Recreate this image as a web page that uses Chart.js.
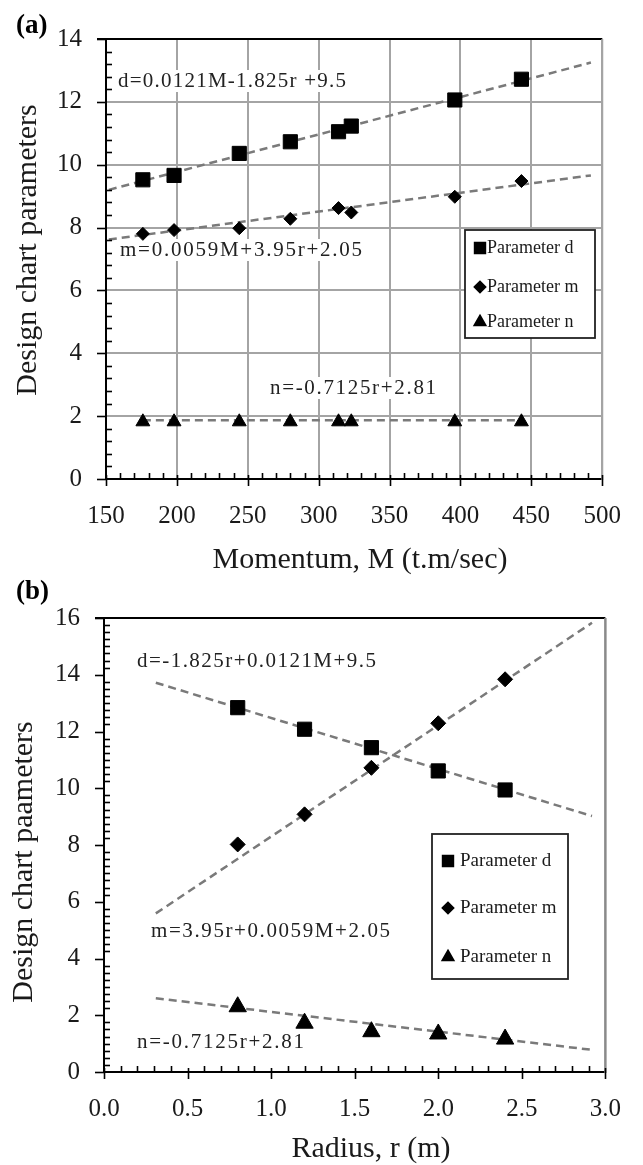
<!DOCTYPE html>
<html><head><meta charset="utf-8">
<script src="https://cdn.jsdelivr.net/npm/chart.js@4/dist/chart.umd.min.js"></script>
<style>
html,body{margin:0;padding:0;background:#fff;}
body{width:643px;height:1165px;position:relative;overflow:hidden;}
.w{position:absolute;left:0;width:643px;}
</style></head><body>
<div class="w" style="top:0;height:580px"><canvas id="ca" width="643" height="580"></canvas></div>
<div class="w" style="top:575px;height:590px"><canvas id="cb" width="643" height="590"></canvas></div>
<script>
// ---------- data: panel (a), parameters vs momentum ----------
const momentum = [176, 198, 244, 280, 314, 323, 396, 443];
const dVsM = [9.52, 9.66, 10.36, 10.73, 11.05, 11.23, 12.06, 12.72];
const mVsM = [7.80, 7.92, 7.98, 8.28, 8.62, 8.48, 8.98, 9.48];
const nVsM = [1.82, 1.82, 1.82, 1.82, 1.82, 1.82, 1.82, 1.82];
const trendMomentumX = [152, 492];
const trendDvsM = [9.20, 13.25];
const trendMvsM = [7.62, 9.66];
const trendNMomentumX = [176, 443];
const trendNvsM = [1.87, 1.87];
const momentumTicks = [150, 200, 250, 300, 350, 400, 450, 500];
const paramTicksA = [0, 2, 4, 6, 8, 10, 12, 14];

// ---------- data: panel (b), parameters vs radius ----------
const radius = [0.8, 1.2, 1.6, 2.0, 2.4];
const dVsR = [12.84, 12.08, 11.43, 10.61, 9.94];
const mVsR = [8.02, 9.08, 10.72, 12.29, 13.84];
const nVsR = [2.30, 1.72, 1.42, 1.34, 1.16];
const trendRadiusX = [0.31, 2.92];
const trendDvsR = [13.72, 9.02];
const trendMvsR = [5.59, 15.83];
const trendNvsR = [2.60, 0.78];
const radiusTicks = [0, 0.5, 1.0, 1.5, 2.0, 2.5, 3.0];
const radiusTickLabels = ['0.0', '0.5', '1.0', '1.5', '2.0', '2.5', '3.0'];
const paramTicksB = [0, 2, 4, 6, 8, 10, 12, 14, 16];

const seriesNames = ['Parameter d', 'Parameter m', 'Parameter n'];

const SERIF = '"Liberation Serif", "Times New Roman", serif';
const TXT = '#1a1a1a';

function pts(xs, ys) { return xs.map((x, i) => ({x: x, y: ys[i]})); }

function markerSet(xs, ds, ms, ns, sz) {
  return [
    {label: seriesNames[0], data: pts(xs, ds), pointStyle: 'rect', pointRadius: sz.d, backgroundColor: '#000', borderColor: '#000', borderWidth: 1, order: 1},
    {label: seriesNames[1], data: pts(xs, ms), pointStyle: 'rectRot', pointRadius: sz.m, backgroundColor: '#000', borderColor: '#000', borderWidth: 1, order: 1},
    {label: seriesNames[2], data: pts(xs, ns), pointStyle: 'triangle', pointRadius: sz.n, backgroundColor: '#000', borderColor: '#000', borderWidth: 1, order: 1}
  ];
}
function trend(label, xs, ys) {
  return {label: label, data: pts(xs, ys), showLine: true, pointRadius: 0, borderColor: '#7a7a7a', borderWidth: 2.5, borderDash: [8, 5], fill: false, order: 2};
}

function line(ctx, x1, y1, x2, y2) { ctx.beginPath(); ctx.moveTo(x1, y1); ctx.lineTo(x2, y2); ctx.stroke(); }

function spacedText(ctx, text, x, y, width) {
  const w0 = ctx.measureText(text).width;
  if ('letterSpacing' in ctx) {
    ctx.letterSpacing = ((width - w0) / Math.max(1, text.length - 1)).toFixed(2) + 'px';
    ctx.fillText(text, x, y);
    ctx.letterSpacing = '0px';
  } else {
    ctx.save(); ctx.translate(x, y); ctx.scale(width / w0, 1); ctx.fillText(text, 0, 0); ctx.restore();
  }
}

function drawMarker(ctx, style, r, x, y) {
  ctx.fillStyle = '#000'; ctx.strokeStyle = '#000';
  if (window.Chart && Chart.helpers && Chart.helpers.drawPoint) {
    Chart.helpers.drawPoint(ctx, {pointStyle: style, radius: r, borderWidth: 1, rotation: 0}, x, y);
  }
}

function makeDeco(cfg) {
  return {
    id: 'deco' + cfg.tag,
    beforeDatasetsDraw(chart) {
      const ctx = chart.ctx;
      ctx.save();
      ctx.font = cfg.annFont;
      ctx.textBaseline = 'middle';
      cfg.annotations.forEach(an => {
        ctx.fillStyle = '#fff';
        ctx.fillRect(an.x - 4, an.y - 11, an.w + 8, 22);
        ctx.fillStyle = '#222';
        spacedText(ctx, an.text, an.x, an.y, an.w);
      });
      ctx.restore();
    },
    afterDatasetsDraw(chart) {
      const ctx = chart.ctx, L = cfg.legend;
      ctx.save();
      ctx.fillStyle = '#fff';
      ctx.fillRect(L.x, L.y, L.w, L.h);
      ctx.strokeStyle = '#222'; ctx.lineWidth = 1.8;
      ctx.strokeRect(L.x, L.y, L.w, L.h);
      const styles = ['rect', 'rectRot', 'triangle'];
      ctx.font = L.font; ctx.textBaseline = 'middle'; ctx.textAlign = 'left';
      seriesNames.forEach((name, i) => {
        drawMarker(ctx, styles[i], L.r[i], L.mx, L.ys[i]);
        ctx.fillStyle = TXT;
        ctx.fillText(name, L.tx, L.ys[i]);
      });
      ctx.restore();
    },
    afterDraw(chart) {
      const ctx = chart.ctx, a = chart.chartArea, xs = chart.scales.x, ys = chart.scales.y;
      ctx.save();
      // top border
      ctx.strokeStyle = '#000'; ctx.lineWidth = 2;
      line(ctx, a.left - 9, a.top, a.right, a.top);
      // right border
      ctx.strokeStyle = cfg.rightColor; ctx.lineWidth = cfg.rightWidth;
      line(ctx, a.right, a.top, a.right, a.bottom + 1);
      // tick marks
      ctx.strokeStyle = '#000'; ctx.lineWidth = 1.6;
      let n = Math.round((ys.max - ys.min) / cfg.yMinor), k = Math.round(cfg.yMajor / cfg.yMinor);
      for (let i = 0; i <= n; i++) {
        const py = Math.round(ys.getPixelForValue(ys.min + i * cfg.yMinor)) + 0.5;
        if (i % k === 0) line(ctx, a.left - 9, py, a.left + 1, py);
        else line(ctx, a.left, py, a.left + 6, py);
      }
      n = Math.round((xs.max - xs.min) / cfg.xMinor); k = Math.round(cfg.xMajor / cfg.xMinor);
      for (let i = 0; i <= n; i++) {
        const px = Math.round(xs.getPixelForValue(xs.min + i * cfg.xMinor)) + 0.5;
        if (i % k === 0) line(ctx, px, a.bottom - 4, px, a.bottom + 7);
        else line(ctx, px, a.bottom - 6, px, a.bottom);
      }
      // panel label
      ctx.fillStyle = '#000';
      ctx.font = 'bold 27px ' + SERIF;
      ctx.textBaseline = 'middle'; ctx.textAlign = 'left';
      ctx.fillText(cfg.panel, 16, cfg.panelY);
      // axis titles
      ctx.fillStyle = TXT;
      ctx.font = cfg.titleFont;
      ctx.textAlign = 'center'; ctx.textBaseline = 'alphabetic';
      ctx.fillText(cfg.xTitle, cfg.xTitleX, cfg.xTitleY);
      ctx.translate(cfg.yTitleX, cfg.yTitleY);
      ctx.rotate(-Math.PI / 2);
      ctx.fillText(cfg.yTitle, 0, 0);
      ctx.restore();
    }
  };
}

function scalesFor(o) {
  return {
    x: {
      type: 'linear', min: o.xMin, max: o.xMax,
      afterBuildTicks: s => { s.ticks = o.xTicks.map(v => ({value: v})); },
      afterFit: s => { s.height = o.xH; },
      ticks: {padding: o.xPad, color: TXT, font: {family: SERIF, size: 25}, maxRotation: 0, autoSkip: false,
        callback: (v, i) => o.xLabels ? o.xLabels[i] : String(v)},
      grid: {display: o.grid, color: '#a4a4a4', lineWidth: 2, drawTicks: false},
      border: {display: true, color: '#000', width: 2}
    },
    y: {
      type: 'linear', min: o.yMin, max: o.yMax,
      afterBuildTicks: s => { s.ticks = o.yTicks.map(v => ({value: v})); },
      afterFit: s => { s.width = o.yW; },
      ticks: {padding: 24, color: TXT, font: {family: SERIF, size: 25}, autoSkip: false,
        callback: v => String(v)},
      grid: {display: o.grid, color: '#a4a4a4', lineWidth: 2, drawTicks: false},
      border: {display: true, color: '#000', width: 2}
    }
  };
}

const common = {
  responsive: false, animation: false, events: [],
  plugins: {legend: {display: false}, tooltip: {enabled: false}}
};

new Chart(document.getElementById('ca'), {
  type: 'scatter',
  data: {datasets: markerSet(momentum, dVsM, mVsM, nVsM, {d: 10, m: 6.5, n: 8}).concat([
    trend('d trend', trendMomentumX, trendDvsM),
    trend('m trend', trendMomentumX, trendMvsM),
    trend('n trend', trendNMomentumX, trendNvsM)
  ])},
  options: Object.assign({}, common, {
    layout: {padding: {left: 0, top: 17, right: 31, bottom: 0}},
    scales: scalesFor({xMin: 150, xMax: 500, xTicks: momentumTicks, yMin: 0, yMax: 14, yTicks: paramTicksA,
      xH: 101, yW: 106, xPad: 22, grid: true})
  }),
  plugins: [makeDeco({
    tag: 'a', panel: '(a)', panelY: 26,
    xTitle: 'Momentum, M (t.m/sec)', xTitleX: 360, xTitleY: 568,
    yTitle: 'Design chart parameters', yTitleX: 36, yTitleY: 250,
    titleFont: '30px ' + SERIF, annFont: '21px ' + SERIF,
    annotations: [
      {text: 'd=0.0121M-1.825r +9.5', x: 118, y: 81, w: 228},
      {text: 'm=0.0059M+3.95r+2.05', x: 120, y: 250, w: 242},
      {text: 'n=-0.7125r+2.81', x: 270, y: 388, w: 166}
    ],
    legend: {x: 465, y: 230, w: 130, h: 108, mx: 480, tx: 487, ys: [248, 287, 322], r: [7.5, 5.5, 6.5], font: '18px ' + SERIF},
    rightColor: '#a4a4a4', rightWidth: 2,
    xMinor: 10, xMajor: 50, yMinor: 0.4, yMajor: 2
  })]
});

new Chart(document.getElementById('cb'), {
  type: 'scatter',
  data: {datasets: markerSet(radius, dVsR, mVsR, nVsR, {d: 10, m: 7.5, n: 10}).concat([
    trend('d trend', trendRadiusX, trendDvsR),
    trend('m trend', trendRadiusX, trendMvsR),
    trend('n trend', trendRadiusX, trendNvsR)
  ])},
  options: Object.assign({}, common, {
    layout: {padding: {left: 0, top: 43, right: 29, bottom: 0}},
    scales: scalesFor({xMin: 0, xMax: 3, xTicks: radiusTicks, xLabels: radiusTickLabels, yMin: 0, yMax: 16, yTicks: paramTicksB,
      xH: 93, yW: 104, xPad: 22, grid: false})
  }),
  plugins: [makeDeco({
    tag: 'b', panel: '(b)', panelY: 17,
    xTitle: 'Radius, r (m)', xTitleX: 371, xTitleY: 582,
    yTitle: 'Design chart paameters', yTitleX: 32, yTitleY: 287,
    titleFont: '30px ' + SERIF, annFont: '21px ' + SERIF,
    annotations: [
      {text: 'd=-1.825r+0.0121M+9.5', x: 137, y: 86, w: 239},
      {text: 'm=3.95r+0.0059M+2.05', x: 151, y: 356, w: 239},
      {text: 'n=-0.7125r+2.81', x: 137, y: 467, w: 167}
    ],
    legend: {x: 432, y: 259, w: 136, h: 145, mx: 448, tx: 460, ys: [286, 333, 382], r: [7.5, 5.5, 6.5], font: '19px ' + SERIF},
    rightColor: '#8a8a8a', rightWidth: 2.5,
    xMinor: 0.1, xMajor: 0.5, yMinor: 0.25, yMajor: 2
  })]
});
</script>
</body></html>
